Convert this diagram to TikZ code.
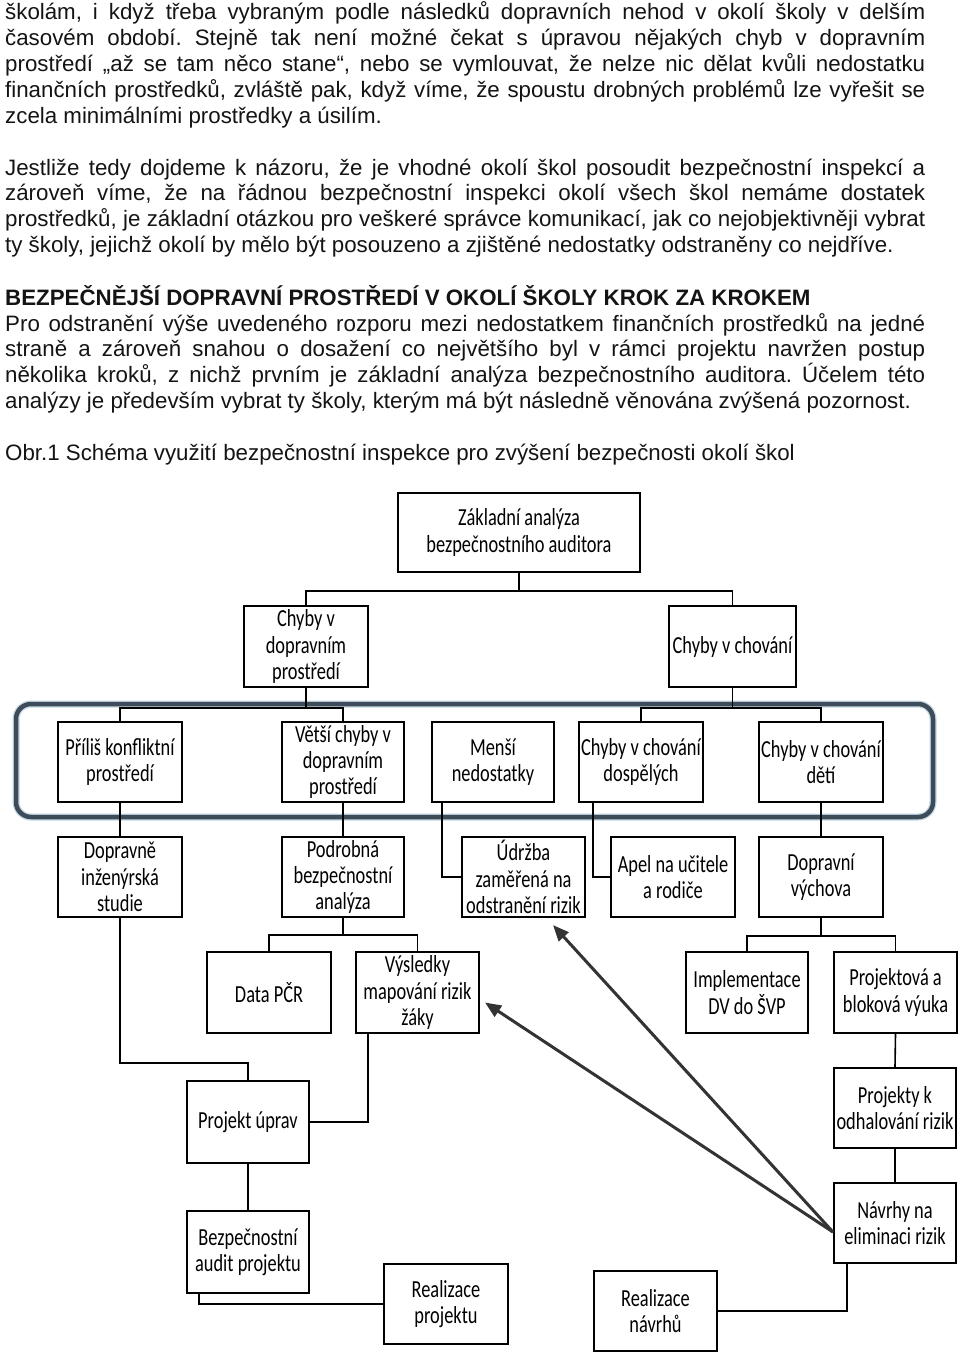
\documentclass[tikz,border=0pt]{standalone}
\usepackage{fontspec}
\setmainfont{Liberation Sans}
\newfontfamily\boxfont{Carlito}[FakeStretch=0.75]
\usetikzlibrary{arrows.meta}
\definecolor{frame}{HTML}{3E4C5A}
\definecolor{framelight}{HTML}{C3D6E4}
\definecolor{arr}{HTML}{333333}
\tikzset{
 box/.style={draw=black, line width=2.1pt, inner sep=0pt, align=center,
   font=\boxfont\fontsize{24.5}{26.2}\selectfont, text=black},
 sz/.style 2 args={minimum width=#1pt, minimum height=#2pt},
 txt/.style={anchor=base west, inner sep=0pt, font=\fontsize{22.3}{25.8}\selectfont, text=black!92},
 conn/.style={draw=black, line width=1.6pt},
 arrowline/.style={draw=arr, line width=3pt, -{Triangle[length=16pt,width=13pt]}},
}
\newcommand{\jl}[1]{\makebox[920pt][s]{#1}}
\frenchspacing
\begin{document}
\begin{tikzpicture}[x=1pt,y=-1pt]
\useasboundingbox (0,0) rectangle (960,1354);
\fill[white] (0,0) rectangle (960,1354);

% ---------- text ----------
\node[txt] (t1) at (5,20) {\jl{školám, i když třeba vybraným podle následků dopravních nehod v okolí školy v delším}};
\node[txt] (t2) at (5,45.8) {\jl{časovém období. Stejně tak není možné čekat s úpravou nějakých chyb v dopravním}};
\node[txt] (t3) at (5,71.6) {\jl{prostředí „až se tam něco stane“, nebo se vymlouvat, že nelze nic dělat kvůli nedostatku}};
\node[txt] (t4) at (5,97.4) {\jl{finančních prostředků, zvláště pak, když víme, že spoustu drobných problémů lze vyřešit se}};
\node[txt] (t5) at (5,123.2) {zcela minimálními prostředky a úsilím.};

\node[txt] (t6) at (5,175) {\jl{Jestliže tedy dojdeme k názoru, že je vhodné okolí škol posoudit bezpečnostní inspekcí a}};
\node[txt] (t7) at (5,200.8) {\jl{zároveň víme, že na řádnou bezpečnostní inspekci okolí všech škol nemáme dostatek}};
\node[txt] (t8) at (5,226.6) {\jl{prostředků, je základní otázkou pro veškeré správce komunikací, jak co nejobjektivněji vybrat}};
\node[txt] (t9) at (5,252.4) {ty školy, jejichž okolí by mělo být posouzeno a zjištěné nedostatky odstraněny co nejdříve.};

\node[txt] (t10) at (5,305) {\textbf{BEZPEČNĚJŠÍ DOPRAVNÍ PROSTŘEDÍ V OKOLÍ ŠKOLY KROK ZA KROKEM}};
\node[txt] (t11) at (5,331) {\jl{Pro odstranění výše uvedeného rozporu mezi nedostatkem finančních prostředků na jedné}};
\node[txt] (t12) at (5,356.8) {\jl{straně a zároveň snahou o dosažení co největšího byl v rámci projektu navržen postup}};
\node[txt] (t13) at (5,382.6) {\jl{několika kroků, z nichž prvním je základní analýza bezpečnostního auditora. Účelem této}};
\node[txt] (t14) at (5,408.4) {analýzy je především vybrat ty školy, kterým má být následně věnována zvýšená pozornost.};

\node[txt] (t15) at (5,460) {Obr.1 Schéma využití bezpečnostní inspekce pro zvýšení bezpečnosti okolí škol};

% ---------- grouping frame ----------
\draw[framelight, line width=7pt, rounded corners=15pt] (16,704) rectangle (933,817);
\draw[frame, line width=4.5pt, rounded corners=15pt] (16,704) rectangle (933,817);

% ---------- boxes ----------
\node[box, sz={242}{79}] (z) at (519,532.5) {Základní analýza\\bezpečnostního auditora};
\node[box, sz={124}{81}] (cdp) at (306,646.5) {Chyby v\\dopravním\\prostředí};
\node[box, sz={127}{81}] (cch) at (732.5,646.5) {Chyby v chování};

\node[box, sz={124}{80}] (a1) at (120,762) {Příliš konfliktní\\prostředí};
\node[box, sz={122}{80}] (a2) at (343,762) {Větší chyby v\\dopravním\\prostředí};
\node[box, sz={122}{80}] (a3) at (493,762) {Menší\\nedostatky};
\node[box, sz={124}{80}] (a4) at (641,762) {Chyby v chování\\dospělých};
\node[box, sz={124}{80}] (a5) at (821,762) {Chyby v chování\\dětí};

\node[box, sz={124}{80}] (b1) at (120,877) {Dopravně\\inženýrská\\studie};
\node[box, sz={122}{80}] (b2) at (343,877) {Podrobná\\bezpečnostní\\analýza};
\node[box, sz={123}{80}] (b3) at (523.5,877) {Údržba\\zaměřená na\\odstranění rizik};
\node[box, sz={124}{80}] (b4) at (673,877) {Apel na učitele\\a rodiče};
\node[box, sz={124}{80}] (b5) at (821,877) {Dopravní\\výchova};

\node[box, sz={124}{81}] (c1) at (269,992.5) {Data PČR};
\node[box, sz={123}{81}] (c2) at (417.5,992.5) {Výsledky\\mapování rizik\\žáky};
\node[box, sz={122}{81}] (c3) at (747,992.5) {Implementace\\DV do ŠVP};
\node[box, sz={123}{81}] (c4) at (895.5,992.5) {Projektová a\\bloková výuka};

\node[box, sz={122}{82}] (pu) at (248,1122) {Projekt úprav};
\node[box, sz={122}{80}] (pk) at (895,1108) {Projekty k\\odhalování rizik};
\node[box, sz={122}{80}] (nav) at (895,1223) {Návrhy na\\eliminaci rizik};
\node[box, sz={122}{82}] (ba) at (248,1252) {Bezpečnostní\\audit projektu};
\node[box, sz={124}{80}] (rp) at (446,1304) {Realizace\\projektu};
\node[box, sz={123}{80}] (rn) at (655.5,1311) {Realizace\\návrhů};

% ---------- connectors ----------
\draw[conn] (z.south) -- ++(0,18) coordinate (zb);
\draw[conn] (zb) -| (cdp.north);
\draw[conn] (zb) -| (cch.north);

\draw[conn] (cdp.south) -- ++(0,20) coordinate (cdpb);
\draw[conn] (cdpb) -| (a1.north);
\draw[conn] (cdpb) -| (a2.north);

\draw[conn] (cch.south) -- ++(0,20) coordinate (cchb);
\draw[conn] (cchb) -| (a4.north);
\draw[conn] (cchb) -| (a5.north);

\draw[conn] (a1.south) -- (b1.north);
\draw[conn] (a2.south) -- (b2.north);
\draw[conn] (a5.south) -- (b5.north);
\draw[conn] ([xshift=-51pt]a3.south) |- (b3.west);
\draw[conn] ([xshift=-48pt]a4.south) |- (b4.west);

\draw[conn] (b2.south) -- ++(0,17) coordinate (b2b);
\draw[conn] (b2b) -| (c1.north);
\draw[conn] (b2b) -| (c2.north);

\draw[conn] (b5.south) -- ++(0,18) coordinate (b5b);
\draw[conn] (b5b) -| (c3.north);
\draw[conn] (b5b) -| (c4.north);

\draw[conn] (b1.south) |- ([yshift=17pt]pu.north) -- (pu.north);
\draw[conn] ([xshift=-49.5pt]c2.south) |- (pu.east);
\draw[conn] (pu.south) -- (ba.north);
\draw[conn] ([xshift=-49pt]ba.south) |- (rp.west);

\draw[conn] (c4.south) -- (pk.north);
\draw[conn] (pk.south) -- (nav.north);
\draw[conn] ([xshift=-48pt]nav.south) |- (rn.east);

% ---------- arrows ----------
\coordinate (navp) at ([yshift=-9pt]nav.west);
\coordinate (tipU) at ([xshift=29.5pt,yshift=-7pt]b3.south);
\coordinate (tipV) at ([xshift=5pt,yshift=-10pt]c2.east);
\draw[arrowline] (navp) -- (tipU);
\draw[arrowline] (navp) -- (tipV);
\end{tikzpicture}
\end{document}
